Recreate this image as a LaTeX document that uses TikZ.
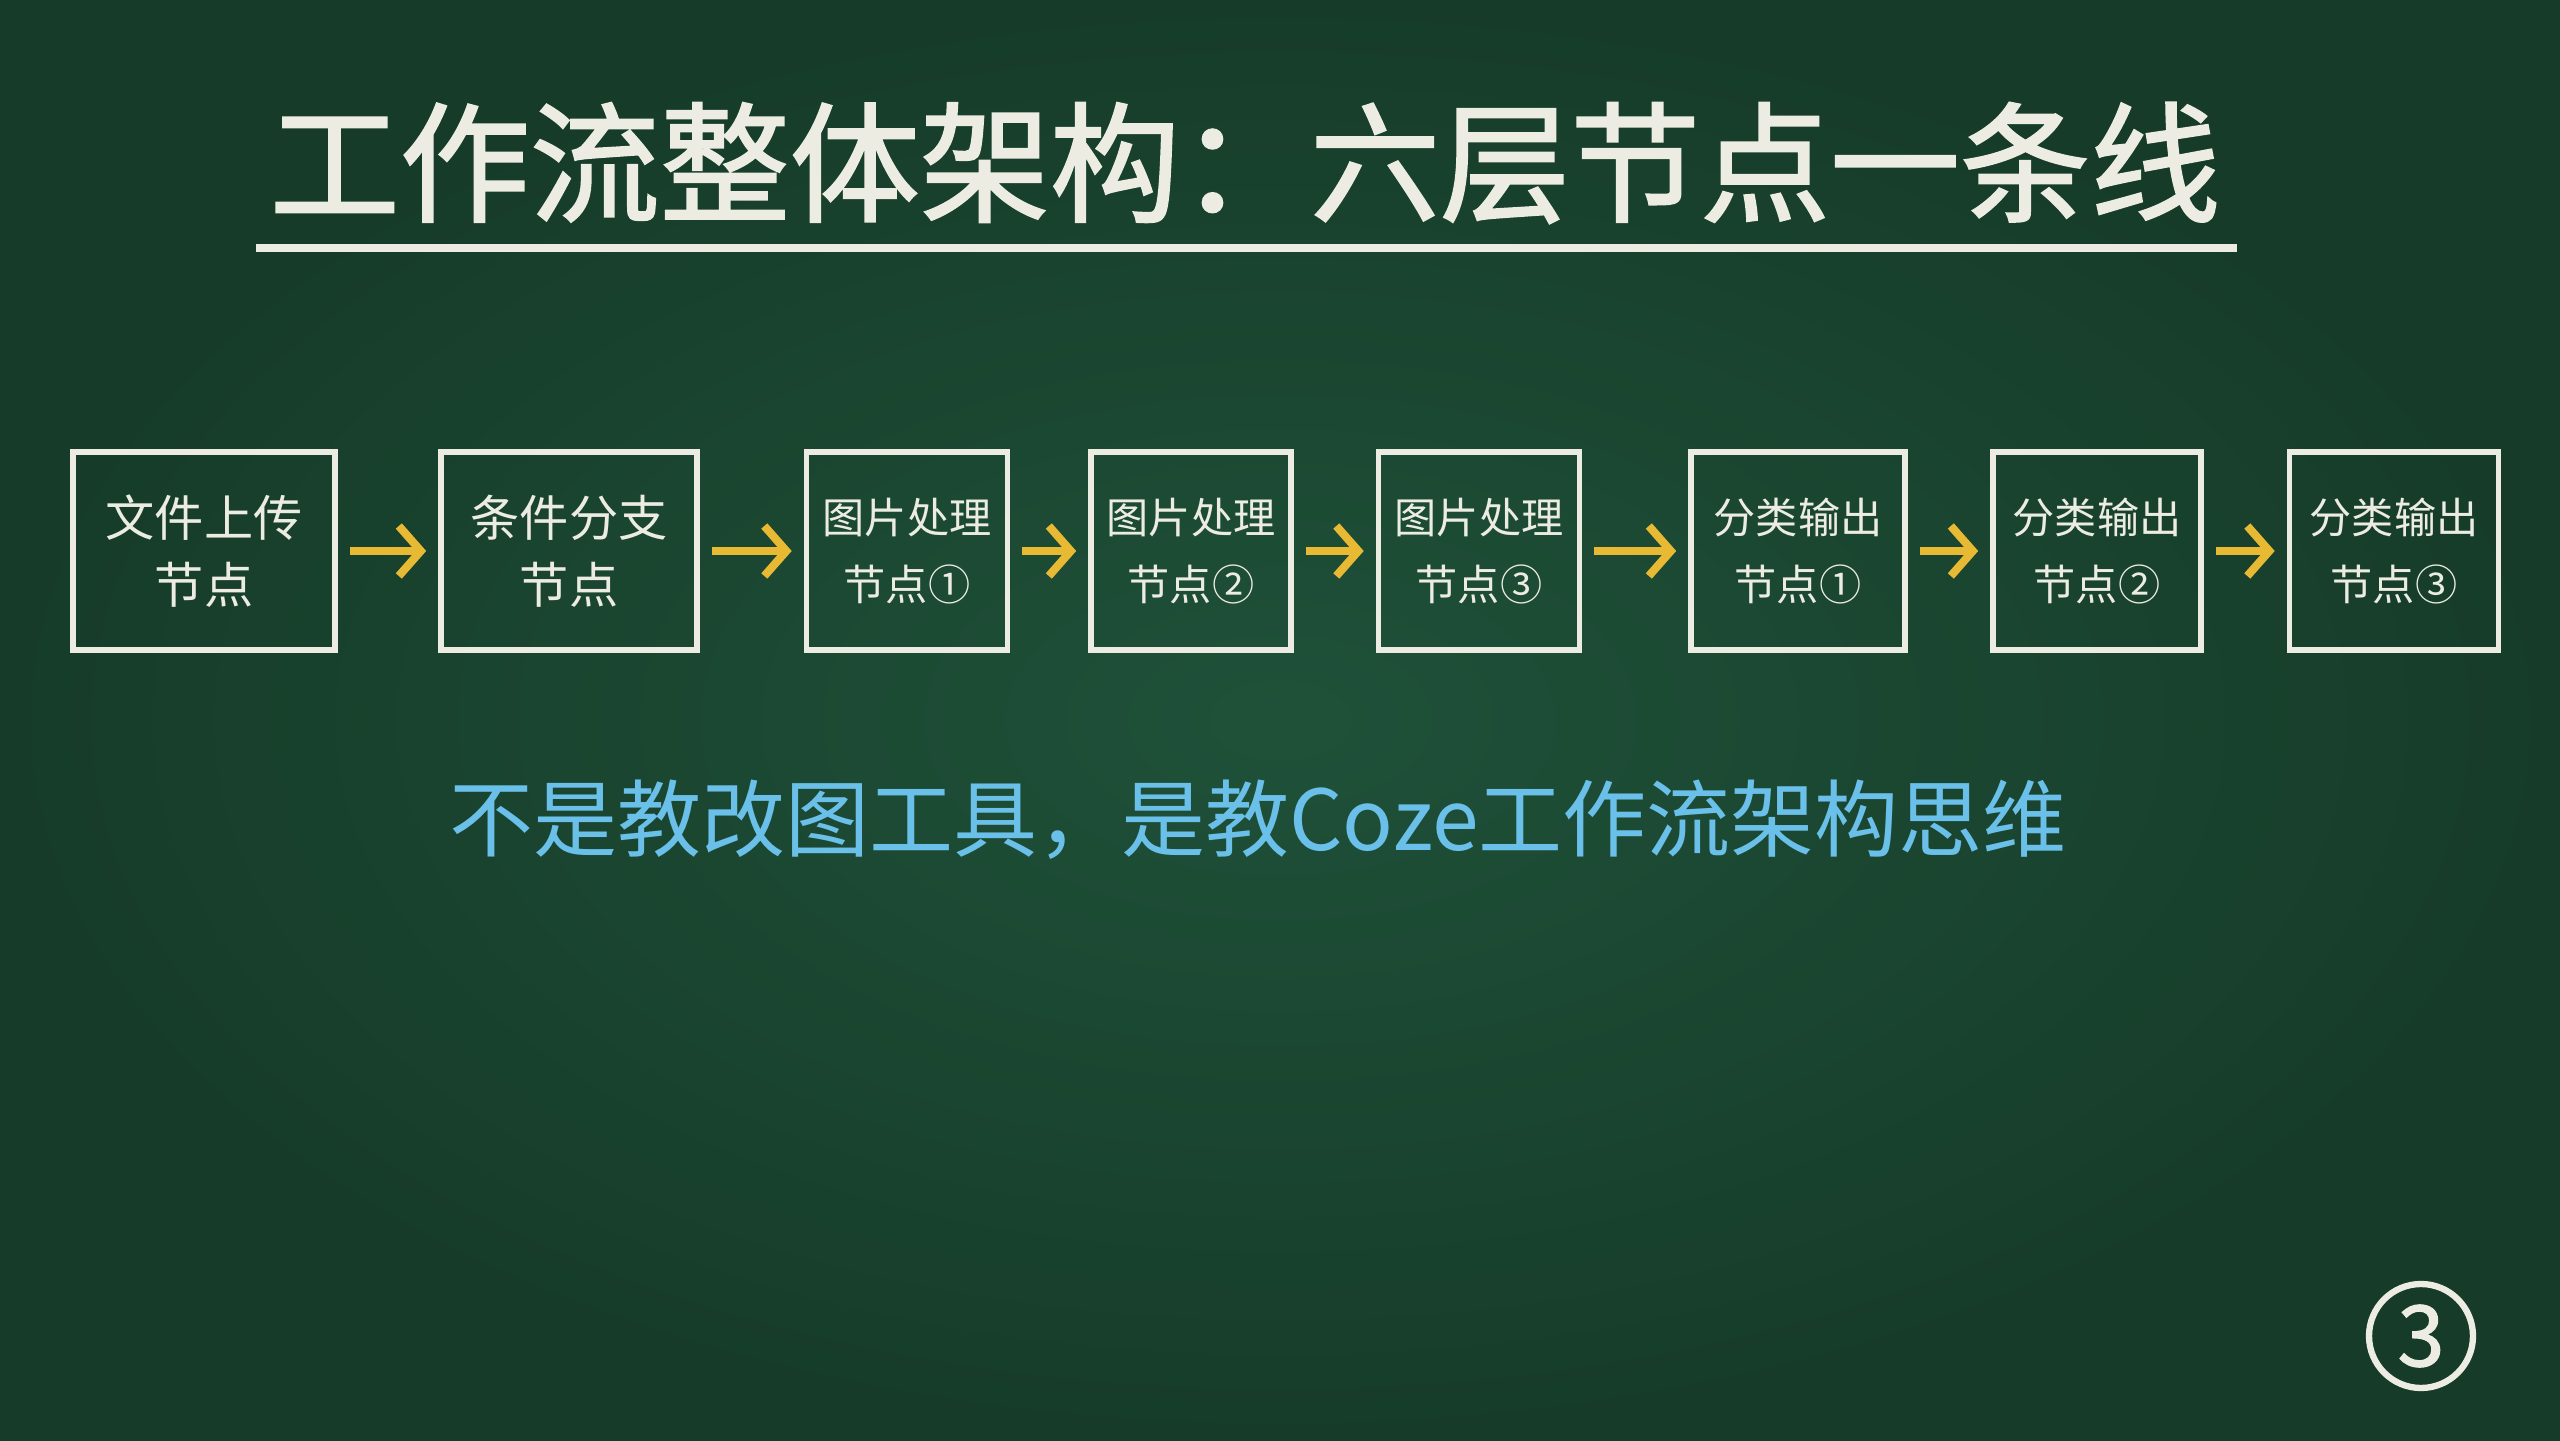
\documentclass[tikz,border=0pt]{standalone}
\usepackage{fontspec}
\setmainfont{Noto Sans CJK SC}
\newfontfamily\chalkfont[FakeBold=1.5]{Noto Sans CJK SC}
\usetikzlibrary{arrows.meta}

\definecolor{board}{HTML}{1F5139}
\definecolor{boardedge}{HTML}{163C29}
\definecolor{chalk}{HTML}{ECECE2}
\definecolor{chalkyellow}{HTML}{E8BA33}
\definecolor{chalkblue}{HTML}{6BC0EA}

\tikzset{
  nodebox/.style={draw=chalk, line width=1.6pt, text=chalk, align=center,
    inner sep=0pt, minimum height=1.98cm, font=\fontsize{12}{19}\selectfont},
  bigbox/.style={nodebox, font=\fontsize{14}{19}\selectfont},
  flow/.style={chalkyellow, line width=2.3pt,
    -{Straight Barb[length=0.22cm,width=0.5cm]},
    shorten <=0.12cm, shorten >=0.12cm}
}

\begin{document}
\begin{tikzpicture}

  % board
  \useasboundingbox (0,0) rectangle (25.6,14.4);
  \shade[inner color=board, outer color=boardedge] (0,0) rectangle (25.6,14.4);

  % title
  \node[text=chalk, font=\chalkfont\fontsize{37}{40}\selectfont] (title) at (12.45,12.77) {工作流整体架构：六层节点一条线};
  \draw[chalk, line width=2pt] (2.56,11.92) -- (22.37,11.92);

  % nodes
  \node[bigbox, minimum width=2.62cm] (upload) at (2.04,8.89) {文件上传\\节点};
  \node[bigbox, minimum width=2.56cm] (branch) at (5.69,8.89) {条件分支\\节点};
  \node[nodebox, minimum width=2.01cm] (imgA) at (9.07,8.89) {图片处理\\节点①};
  \node[nodebox, minimum width=2.00cm] (imgB) at (11.91,8.89) {图片处理\\节点②};
  \node[nodebox, minimum width=2.01cm] (imgC) at (14.79,8.89) {图片处理\\节点③};
  \node[nodebox, minimum width=2.14cm] (outA) at (17.98,8.89) {分类输出\\节点①};
  \node[nodebox, minimum width=2.08cm] (outB) at (20.97,8.89) {分类输出\\节点②};
  \node[nodebox, minimum width=2.09cm] (outC) at (23.94,8.89) {分类输出\\节点③};

  % arrows
  \foreach \a/\b in {upload/branch, branch/imgA, imgA/imgB, imgB/imgC, imgC/outA, outA/outB, outB/outC} {
      \draw[flow] (\a) -- (\b);
    }

  % subtitle
  \node[text=chalkblue, font=\fontsize{23.9}{28}\selectfont] (motto) at (12.58,6.2) {不是教改图工具，是教Coze工作流架构思维};

  % page number
  \node[circle, draw=chalk, line width=1.8pt, minimum size=1.04cm, inner sep=0pt,
    text=chalk, font=\chalkfont\fontsize{24}{24}\selectfont] (page) at (24.21,1.04) {3};
\end{tikzpicture}
\end{document}
